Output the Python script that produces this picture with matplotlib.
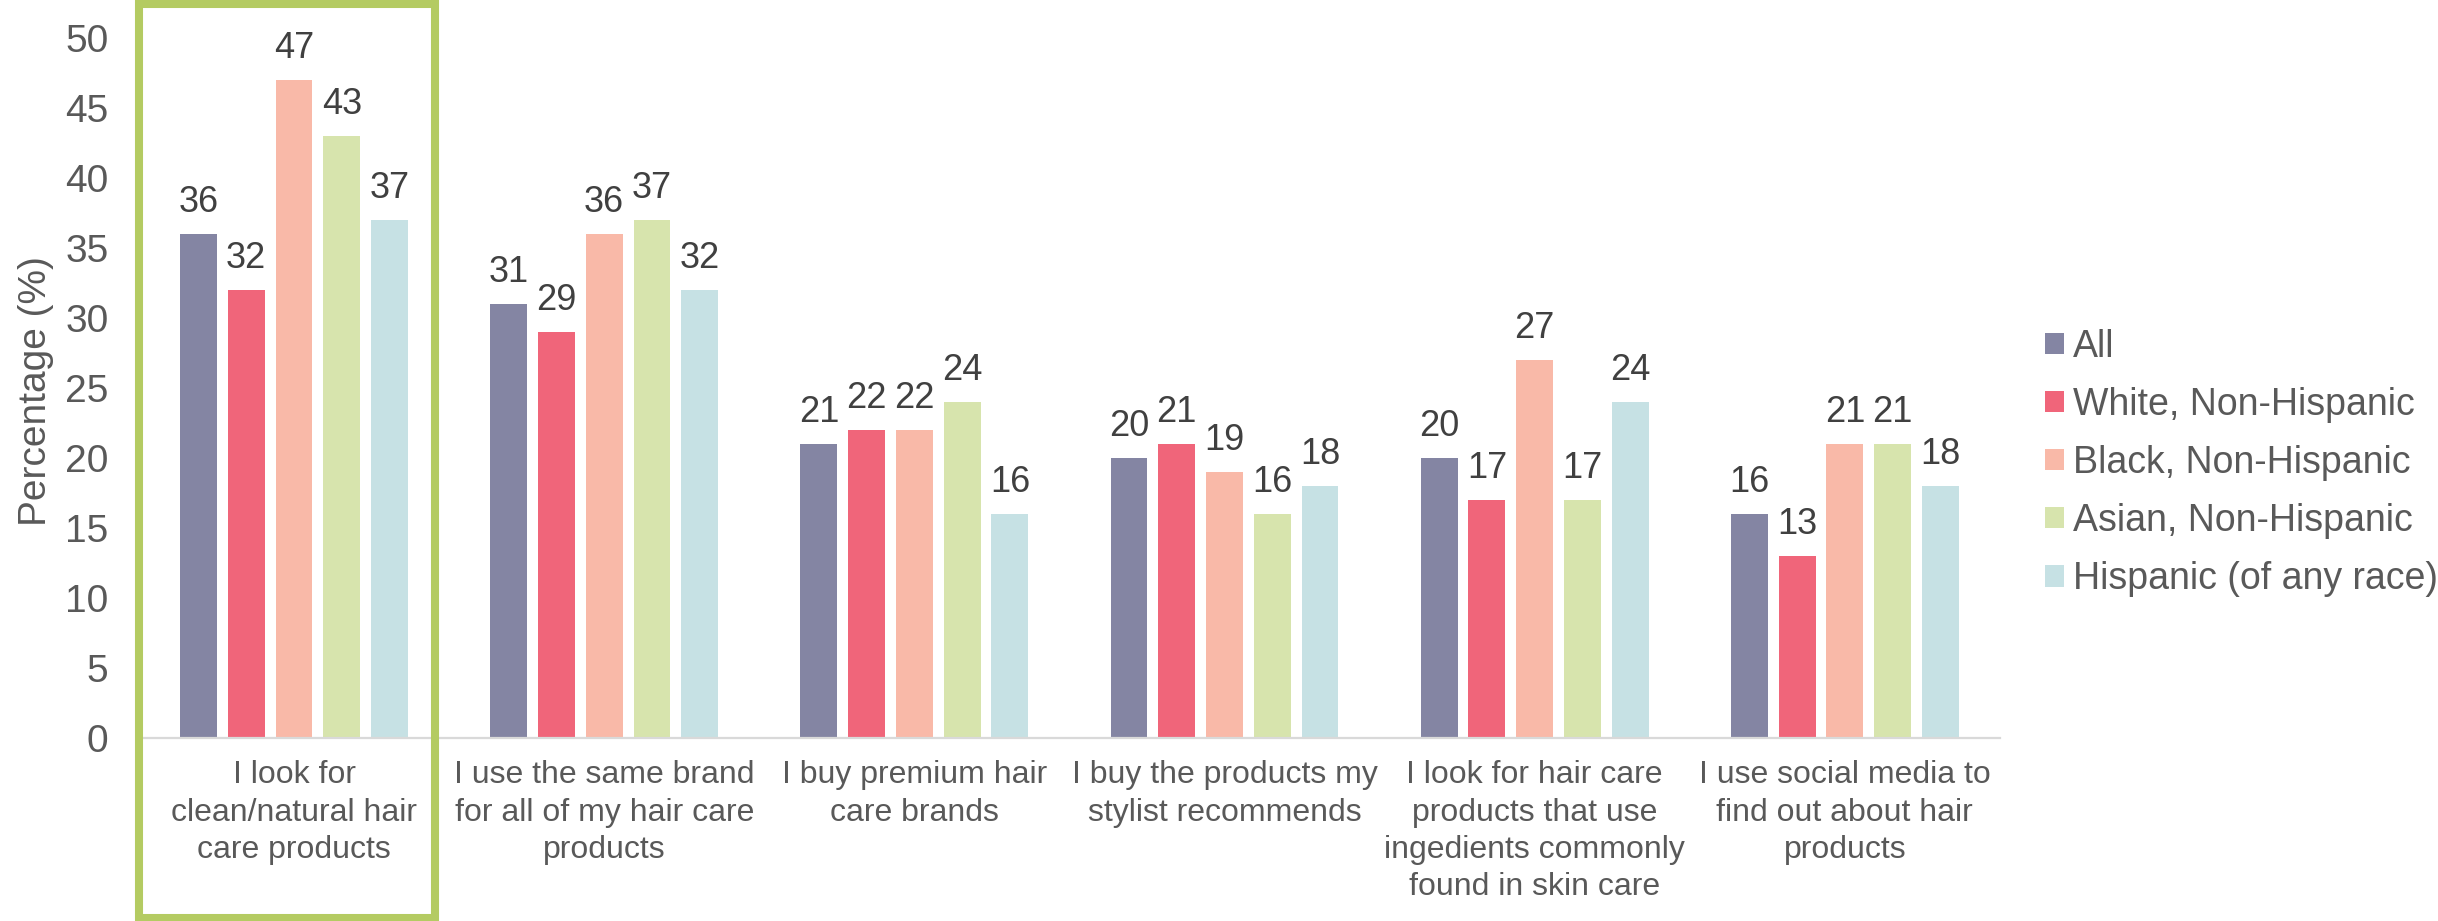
import matplotlib

matplotlib.use("Agg")
import matplotlib.pyplot as plt
import numpy as np
from matplotlib.patches import Patch, Rectangle
from matplotlib.transforms import blended_transform_factory

plt.rcParams["font.family"] = ["Liberation Sans", "DejaVu Sans"]

CATEGORIES = [
    "I look for\nclean/natural hair\ncare products",
    "I use the same brand\nfor all of my hair care\nproducts",
    "I buy premium hair\ncare brands",
    "I buy the products my\nstylist recommends",
    "I look for hair care\nproducts that use\ningedients commonly\nfound in skin care",
    "I use social media to\nfind out about hair\nproducts",
]
SERIES_NAMES = [
    "All",
    "White, Non-Hispanic",
    "Black, Non-Hispanic",
    "Asian, Non-Hispanic",
    "Hispanic (of any race)",
]
ALL = [36, 31, 21, 20, 20, 16]
WHITE = [32, 29, 22, 21, 17, 13]
BLACK = [47, 36, 22, 19, 27, 21]
ASIAN = [43, 37, 24, 16, 17, 21]
HISPANIC = [37, 32, 16, 18, 24, 18]
Y_TICKS = [0, 5, 10, 15, 20, 25, 30, 35, 40, 45, 50]

COLORS = ["#8485A3", "#F0657A", "#F9B9A8", "#D7E4AD", "#C6E1E4"]
TEXT_DARK = "#404040"
TEXT_GREY = "#595959"
HIGHLIGHT = "#B4CB62"

BAR_WIDTH = 0.119
BAR_STEP = 0.154


def main() -> None:
    series = [ALL, WHITE, BLACK, ASIAN, HISPANIC]
    x = np.arange(len(CATEGORIES))

    fig = plt.figure(figsize=(24.38, 9.21), dpi=100)
    ax = fig.add_axes([0.0570, 0.1987, 0.8203 - 0.0570, 0.9587 - 0.1987])

    for idx, (name, values) in enumerate(zip(SERIES_NAMES, series)):
        offset = (idx - 2) * BAR_STEP
        bars = ax.bar(x + offset, values, width=BAR_WIDTH, color=COLORS[idx], label=name, zorder=2)
        for bar, value in zip(bars, values):
            ax.annotate(
                f"{value}",
                xy=(bar.get_x() + bar.get_width() / 2, value),
                xytext=(0, 10),
                textcoords="offset points",
                ha="center",
                va="bottom",
                fontsize=26,
                color=TEXT_DARK,
            )

    ax.set_xlim(-0.5, len(CATEGORIES) - 0.5)
    ax.set_ylim(0, 50)
    ax.set_yticks(Y_TICKS)
    ax.set_xticks(x)
    ax.set_xticklabels(CATEGORIES, fontsize=23, color=TEXT_GREY, linespacing=1.32)
    ax.tick_params(axis="x", length=0, pad=16)
    ax.tick_params(axis="y", length=0, pad=22, labelsize=28, labelcolor=TEXT_GREY)

    for side in ("top", "right", "left"):
        ax.spines[side].set_visible(False)
    ax.spines["bottom"].set_color("#D9D9D9")
    ax.spines["bottom"].set_linewidth(1.6)

    fig.text(36 / 2438, 0.575, "Percentage (%)", rotation=90, ha="center", va="center",
             fontsize=28, color=TEXT_GREY)

    # highlight box around the first category
    trans = blended_transform_factory(ax.transData, fig.transFigure)
    box = Rectangle((-0.5, 0.0033), 0.956, 0.9957 - 0.0033, transform=trans, fill=False,
                    edgecolor=HIGHLIGHT, linewidth=5.8, clip_on=False, zorder=5)
    fig.add_artist(box)

    handles = [Patch(facecolor=color, edgecolor="none") for color in COLORS]
    fig.legend(
        handles,
        SERIES_NAMES,
        loc="center left",
        bbox_to_anchor=(2045 / 2438, 0.4973),
        frameon=False,
        fontsize=27,
        labelcolor=TEXT_GREY,
        handlelength=0.5,
        handleheight=0.5,
        handletextpad=0.25,
        labelspacing=0.59,
        borderpad=0,
        borderaxespad=0,
    )

    fig.savefig("out.png", dpi=100)
    plt.close(fig)


if __name__ == "__main__":
    main()
